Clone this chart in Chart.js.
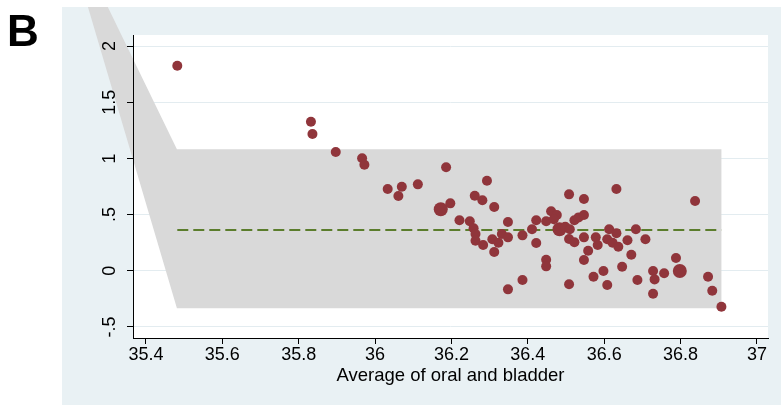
<!DOCTYPE html>
<html lang="en">
<head>
<meta charset="UTF-8">
<title>Oral vs bladder - B</title>
<script src="https://cdn.jsdelivr.net/npm/chart.js@4.4.0/dist/chart.umd.min.js"></script>
<style>
    body { margin: 0; background: #fff; }
    #wrap { position: relative; width: 781px; height: 405px; }
    #panel { position: absolute; left: 7px; top: 9px; font: bold 44px "Liberation Sans", Arial, sans-serif; line-height: 1; color: #000; }
</style>
</head>
<body>
<div id="wrap">
    <canvas id="myChart" width="781" height="405"></canvas>
    <div id="panel">B</div>
</div>

<script type="text/javascript">
// valori: media e differenza (orale - vescica)
const avgTemp = [35.482, 35.832, 35.836, 35.897, 35.966, 35.972, 36.033, 36.061, 36.070, 36.112,
    36.186, 36.172, 36.197, 36.293, 36.261, 36.281, 36.221, 36.248, 36.258, 36.263,
    36.263, 36.283, 36.312, 36.307, 36.323, 36.312, 36.332, 36.348, 36.348, 36.348,
    36.386, 36.386, 36.411, 36.422, 36.422, 36.448, 36.448, 36.448, 36.461, 36.476,
    36.468, 36.483, 36.498, 36.508, 36.508, 36.508, 36.510, 36.522, 36.522, 36.533,
    36.547, 36.547, 36.547, 36.558, 36.547, 36.632, 36.578, 36.583, 36.572, 36.598,
    36.608, 36.613, 36.608, 36.622, 36.632, 36.637, 36.661, 36.671, 36.647, 36.683,
    36.708, 36.687, 36.728, 36.732, 36.728, 36.757, 36.838, 36.788, 36.798, 36.872,
    36.883, 36.907];
const diffTemp = [1.825, 1.327, 1.217, 1.057, 1.001, 0.944, 0.727, 0.665, 0.748, 0.769,
    0.921, 0.547, 0.600, 0.801, 0.668, 0.627, 0.449, 0.440, 0.378, 0.327,
    0.267, 0.229, 0.567, 0.280, 0.249, 0.167, 0.327, 0.434, 0.297, -0.166,
    0.315, -0.083, 0.369, 0.449, 0.247, 0.098, 0.039, 0.440, 0.529, 0.496,
    0.458, 0.369, 0.392, 0.680, -0.121, 0.282, 0.369, 0.253, 0.449, 0.475,
    0.638, 0.496, 0.297, 0.178, 0.095, 0.727, 0.297, 0.229, -0.053, -0.003,
    -0.127, 0.369, 0.280, 0.249, 0.333, 0.214, 0.271, 0.143, 0.036, 0.369,
    0.280, -0.083, -0.003, -0.077, -0.205, -0.023, 0.621, 0.113, -0.003, -0.053,
    -0.178, -0.321];
// 2 = punto ripetuto (marcatore piu grande)
const pointCount = [1, 1, 1, 1, 1, 1, 1, 1, 1, 1,
    1, 2, 1, 1, 1, 1, 1, 1, 1, 1,
    1, 1, 1, 1, 1, 1, 1, 1, 1, 1,
    1, 1, 1, 1, 1, 1, 1, 1, 1, 1,
    1, 2, 1, 1, 1, 1, 1, 1, 1, 1,
    1, 1, 1, 1, 1, 1, 1, 1, 1, 1,
    1, 1, 1, 1, 1, 1, 1, 1, 1, 1,
    1, 1, 1, 1, 1, 1, 1, 1, 2, 1,
    1, 1];

const meanDiff = 0.362;
const upperLoA = 1.081;
const lowerLoA = -0.335;
// banda grigia (limiti di accordo), con la coda che esce a sinistra
const bandX = [35.300, 35.481, 36.907, 36.907, 35.481, 35.248];
const bandY = [2.348, upperLoA, upperLoA, lowerLoA, lowerLoA, 2.348];

const xTicks = [35.4, 35.6, 35.8, 36, 36.2, 36.4, 36.6, 36.8, 37];
const xTickLabels = ['35.4', '35.6', '35.8', '36', '36.2', '36.4', '36.6', '36.8', '37'];
const yTicks = [-0.5, 0, 0.5, 1, 1.5, 2];
const yTickLabels = ['-.5', '0', '.5', '1', '1.5', '2'];

Chart.defaults.font.family = '"Liberation Sans", Arial, sans-serif';
Chart.defaults.color = '#000';

const points = avgTemp.map((v, i) => ({x: v, y: diffTemp[i]}));
const xFirst = Math.min(...avgTemp);
const xLast = Math.max(...avgTemp);

//sfondo e banda grigia
const sfondo = {
    id: 'sfondo',
    beforeDraw(chart) {
        const ctx = chart.ctx, a = chart.chartArea;
        ctx.save();
        ctx.fillStyle = '#e9f1f4';
        ctx.fillRect(62, 7, chart.width - 62, chart.height - 7);
        ctx.fillStyle = '#ffffff';
        ctx.fillRect(a.left, a.top, a.right - a.left, a.bottom - a.top);
        ctx.restore();
    },
    beforeDatasetsDraw(chart) {
        const ctx = chart.ctx;
        const xs = chart.scales.x, ys = chart.scales.y;
        ctx.save();
        ctx.beginPath();
        ctx.rect(62, 7, chart.width - 62, chart.height - 7);
        ctx.clip();
        ctx.beginPath();
        for (let i = 0; i < bandX.length; i++) {
            const px = xs.getPixelForValue(bandX[i]);
            const py = ys.getPixelForValue(bandY[i]);
            if (i === 0) ctx.moveTo(px, py); else ctx.lineTo(px, py);
        }
        ctx.closePath();
        ctx.fillStyle = '#d9d9d9';
        ctx.fill();
        ctx.restore();
    }
};

const config = {
    type: 'scatter',
    data: {
        datasets: [{
            data: points,
            backgroundColor: '#90353b',
            borderWidth: 0,
            pointRadius: pointCount.map(c => c > 1 ? 7 : 5),
            pointHoverRadius: pointCount.map(c => c > 1 ? 7 : 5)
        }, {
            data: [{x: xFirst, y: meanDiff}, {x: xLast, y: meanDiff}],
            showLine: true,
            borderColor: '#5b7d2c',
            borderWidth: 2,
            borderDash: [11, 5],
            pointRadius: 0
        }]
    },
    options: {
        responsive: false,
        animation: false,
        events: [],
        layout: {padding: {left: 62, right: 13, top: 35, bottom: 0}},
        plugins: {legend: {display: false}, tooltip: {enabled: false}},
        scales: {
            x: {
                type: 'linear',
                min: 35.366,
                max: 37.029,
                afterBuildTicks: s => { s.ticks = xTicks.map(v => ({value: v})); },
                afterFit: s => { s.height = 67; },
                ticks: {
                    font: {size: 18},
                    padding: 0,
                    maxRotation: 0,
                    callback: (v, i) => xTickLabels[i]
                },
                grid: {drawOnChartArea: false, color: '#000', tickLength: 6},
                border: {color: '#000'},
                title: {
                    display: true,
                    text: 'Average of oral and bladder',
                    font: {size: 18.5},
                    padding: {top: 0, bottom: 18}
                }
            },
            y: {
                type: 'linear',
                position: 'left',
                weight: 0,
                min: -0.599,
                max: 2.099,
                afterBuildTicks: s => { s.ticks = yTicks.map(v => ({value: v})); },
                afterFit: s => { s.width = 0; },
                ticks: {display: false},
                grid: {color: '#e3ecf0', drawTicks: false},
                border: {display: false}
            },
            yl: {
                type: 'linear',
                position: 'left',
                weight: 1,
                min: -0.599,
                max: 2.099,
                afterBuildTicks: s => { s.ticks = yTicks.map(v => ({value: v})); },
                afterFit: s => { s.width = 71; },
                ticks: {
                    z: 1,
                    font: {size: 18},
                    minRotation: 90,
                    maxRotation: 90,
                    crossAlign: 'center',
                    padding: 4,
                    autoSkip: false,
                    callback: (v, i) => yTickLabels[i]
                },
                grid: {z: 1, drawOnChartArea: false, color: '#000', tickLength: 6},
                border: {z: 1, color: '#000'}
            }
        }
    },
    plugins: [sfondo]
};

const myChart = new Chart(document.getElementById('myChart'), config);
</script>
</body>
</html>
